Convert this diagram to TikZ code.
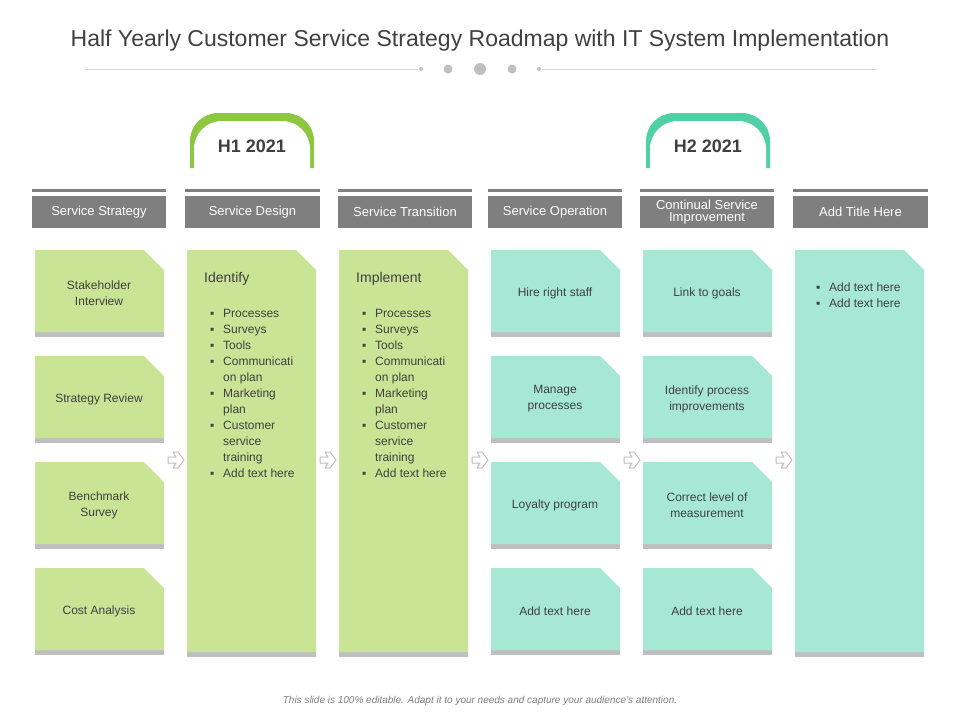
\documentclass[tikz,border=0pt]{standalone}
\usepackage{fontspec}
\setmainfont{Liberation Sans}
\usetikzlibrary{calc}

\definecolor{lgreen}{HTML}{C9E495}
\definecolor{lteal}{HTML}{A6E8D3}
\definecolor{bgreen}{HTML}{8DC63F}
\definecolor{bteal}{HTML}{4FD1A5}
\definecolor{hgray}{HTML}{7F7F7F}
\definecolor{sgray}{HTML}{BFBFBF}
\definecolor{tgray}{HTML}{404040}

\tikzset{
  cardtext/.style={text=tgray,align=center,font=\fontsize{12}{16}\selectfont},
  headtext/.style={text=white,align=center,font=\fontsize{13}{13}\selectfont},
  listtext/.style={text=tgray,anchor=north west,align=left,font=\fontsize{12}{16}\selectfont,inner sep=0pt},
  badgetext/.style={text=tgray,font=\bfseries\fontsize{18}{18}\selectfont}
}

% card with cut corner and a grey strip below
\newcommand{\card}[5]{%
  \fill[sgray] (#1,#4-4) rectangle (#3,#4+1);
  \fill[#5] (#1,#2) -- (#3-20,#2) -- (#3,#2+20) -- (#3,#4-4) -- (#1,#4-4) -- cycle;
}
% header bar
\newcommand{\headbar}[4]{%
  \fill[hgray] (#1,189) rectangle (#2,192);
  \fill[hgray] (#1,196) rectangle (#2,228);
  \node[headtext] (#3) at ({(#1+#2)/2},212) {#4};
}
% hollow arrow icon
\newcommand{\arrowicon}[1]{%
  \draw[sgray,fill=white,line width=1pt,line join=round]
    (#1-8,457) -- (#1,457) -- (#1-3,452) -- (#1+2,452) -- (#1+8,460)
    -- (#1+2,468) -- (#1-3,468) -- (#1,463) -- (#1-8,463) -- cycle;
}
% badge
\newcommand{\badge}[4]{%
  \fill[#2] (#1-62,168) -- (#1-62,141) arc (180:270:28) -- (#1+34,113) arc (270:360:28) -- (#1+62,168) -- cycle;
  \fill[white] (#1-58,178) -- (#1-58,149) arc (180:270:28) -- (#1+30,121) arc (270:360:28) -- (#1+58,178) -- cycle;
  \node[badgetext] (#3) at (#1,146) {#4};
}
\newcommand{\blist}[1]{\begin{tabular}{@{}p{13pt}@{}l@{}}#1\end{tabular}}

\begin{document}
\begin{tikzpicture}[x=1pt,y=-1pt]
\useasboundingbox[fill=white] (0,0) rectangle (960,720);

% title
\node[text=tgray,font=\fontsize{23}{23}\selectfont] (title) at (480,41)
  {Half Yearly Customer Service Strategy Roadmap with IT System Implementation};
\draw[sgray!60,line width=0.8pt] (85,69) -- (418,69);
\draw[sgray!60,line width=0.8pt] (542,69) -- (877,69);
\fill[sgray] (421,69) circle (2) (448,69) circle (4.5) (480,69) circle (6) (512,69) circle (4.5) (539,69) circle (2);

% badges
\badge{252}{bgreen}{hone}{H1 2021}
\badge{708}{bteal}{htwo}{H2 2021}

% header bars
\headbar{32}{166}{hstrat}{Service Strategy}
\headbar{185}{320}{hdesign}{Service Design}
\headbar{338}{472}{htrans}{Service Transition}
\headbar{488}{622}{hoper}{Service Operation}
\headbar{640}{774}{hcont}{\fontsize{13}{14}\selectfont Continual Service\\[-1pt]Improvement}
\headbar{793}{928}{hadd}{Add Title Here}

% column 1
\card{35}{250}{164}{336}{lgreen}
\card{35}{356}{164}{442}{lgreen}
\card{35}{462}{164}{548}{lgreen}
\card{35}{568}{164}{654}{lgreen}
\node[cardtext] (stake) at (99,293) {Stakeholder\\Interview};
\node[cardtext] (review) at (99,399) {Strategy Review};
\node[cardtext] (bench) at (99,505) {Benchmark\\Survey};
\node[cardtext] (cost) at (99,611) {Cost Analysis};

% columns 2 and 3
\card{187}{250}{316}{656}{lgreen}
\card{339}{250}{468}{656}{lgreen}
\node[listtext,font=\fontsize{14}{16}\selectfont] (ident) at (204,272) {Identify};
\node[listtext] (identlist) at (210,306) {\blist{▪&Processes\\▪&Surveys\\▪&Tools\\▪&Communicati\\&on plan\\▪&Marketing\\&plan\\▪&Customer\\&service\\&training\\▪&Add text here}};
\node[listtext,font=\fontsize{14}{16}\selectfont] (impl) at (356,272) {Implement};
\node[listtext] (impllist) at (362,306) {\blist{▪&Processes\\▪&Surveys\\▪&Tools\\▪&Communicati\\&on plan\\▪&Marketing\\&plan\\▪&Customer\\&service\\&training\\▪&Add text here}};

% columns 4 and 5
\card{491}{250}{620}{336}{lteal}
\card{491}{356}{620}{442}{lteal}
\card{491}{462}{620}{548}{lteal}
\card{491}{568}{620}{654}{lteal}
\node[cardtext] (hire) at (555,293) {Hire right staff};
\node[cardtext] (manage) at (555,399) {Manage\\processes};
\node[cardtext] (loyal) at (555,505) {Loyalty program};
\node[cardtext] (opadd) at (555,611) {Add text here};
\card{643}{250}{772}{336}{lteal}
\card{643}{356}{772}{442}{lteal}
\card{643}{462}{772}{548}{lteal}
\card{643}{568}{772}{654}{lteal}
\node[cardtext] (goals) at (707,293) {Link to goals};
\node[cardtext] (improve) at (707,399) {Identify process\\improvements};
\node[cardtext] (measure) at (707,505) {Correct level of\\measurement};
\node[cardtext] (coadd) at (707,611) {Add text here};

% column 6
\card{795}{250}{924}{656}{lteal}
\node[listtext] (addlist) at (816,280) {\blist{▪&Add text here\\▪&Add text here}};

% arrows
\foreach \ax in {176,328,480,632,784} {\arrowicon{\ax}}

% footer
\node[text=hgray,font=\itshape\fontsize{10}{10}\selectfont] (foot) at (480,701)
  {This slide is 100\% editable. Adapt it to your needs and capture your audience's attention.};
\end{tikzpicture}
\end{document}
